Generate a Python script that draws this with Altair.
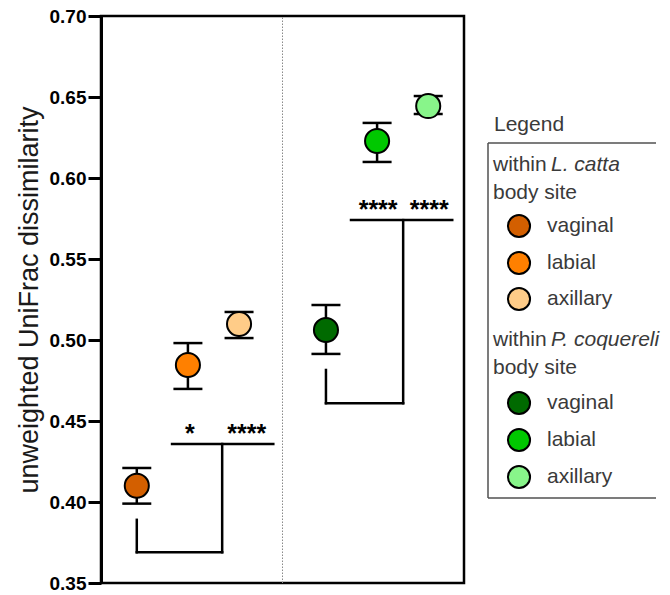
import altair as alt
import pandas as pd

# ---------------- data ----------------
groups = ["L. catta"] * 3 + ["P. coquereli"] * 3
sites = ["vaginal", "labial", "axillary"] * 2
keys = [f"{g} {s}" for g, s in zip(groups, sites)]
xpos = [1, 2, 3, 4.7, 5.7, 6.7]
means = [0.410, 0.4846, 0.5099, 0.5062, 0.6228, 0.6444]
lows = [0.399, 0.4698, 0.5012, 0.4914, 0.6099, 0.6395]
highs = [0.421, 0.4981, 0.5173, 0.5216, 0.6340, 0.6506]
colors = ["#D35F00", "#FF8000", "#FFCC88", "#006A00", "#00C800", "#88F58A"]

# significance brackets (segments)
seg_x = [1, 1, 2.67, 1.69, 4.7, 4.7, 6.21, 5.19]
seg_x2 = [1, 2.67, 2.67, 3.67, 4.7, 6.21, 6.21, 7.17]
seg_y = [0.389, 0.369, 0.369, 0.4358, 0.4815, 0.461, 0.461, 0.574]
seg_y2 = [0.369, 0.369, 0.4358, 0.4358, 0.461, 0.461, 0.574, 0.574]

star_text = ["*", "****", "****", "****"]
star_x = [2.04, 3.15, 5.72, 6.72]
star_y = [0.4358, 0.4358, 0.574, 0.574]

y_ticks = [0.35, 0.40, 0.45, 0.50, 0.55, 0.60, 0.65, 0.70]
divider_x = (xpos[2] + xpos[3]) / 2

FONT = "Liberation Sans"

df = pd.DataFrame({"key": keys, "x": xpos, "mean": means, "lo": lows, "hi": highs})
seg = pd.DataFrame({"x": seg_x, "x2": seg_x2, "y": seg_y, "y2": seg_y2})
stars = pd.DataFrame({"x": star_x, "y": star_y, "t": star_text})
div = pd.DataFrame({"x": [divider_x], "y": [y_ticks[0]], "y2": [y_ticks[-1]]})

xs = alt.Scale(domain=[0.3, 7.4], nice=False, zero=False)
ys = alt.Scale(domain=[0.35, 0.70], nice=False, zero=False)
fill_scale = alt.Scale(domain=keys, range=colors)

yaxis = alt.Axis(
    values=y_ticks, format=".2f", grid=False,
    labelFont=FONT, labelFontSize=19, labelFontWeight="bold", labelColor="black",
    labelPadding=2, tickSize=13, tickWidth=3, tickColor="black",
    domainColor="black", domainWidth=3,
    title="unweighted UniFrac dissimilarity", titleFont=FONT, titleFontSize=27,
    titleFontWeight="normal", titleColor="#1a1a1a", titlePadding=6,
)

divider = alt.Chart(div).mark_rule(color="#8a8a8a", strokeWidth=1, strokeDash=[1.5, 1.5]).encode(
    x=alt.X("x:Q", scale=xs, axis=None),
    y=alt.Y("y:Q", scale=ys, axis=yaxis),
    y2="y2:Q",
)

brackets = alt.Chart(seg).mark_rule(color="black", strokeWidth=2.5, strokeCap="square").encode(
    x=alt.X("x:Q", scale=xs, axis=None),
    x2="x2:Q",
    y=alt.Y("y:Q", scale=ys),
    y2="y2:Q",
)

err = alt.Chart(df).mark_rule(color="black", strokeWidth=2.5).encode(
    x=alt.X("x:Q", scale=xs, axis=None),
    y=alt.Y("lo:Q", scale=ys),
    y2="hi:Q",
)
cap_lo = alt.Chart(df).mark_tick(orient="horizontal", size=29, thickness=2.5, color="black", opacity=1).encode(
    x=alt.X("x:Q", scale=xs, axis=None),
    y=alt.Y("lo:Q", scale=ys),
)
cap_hi = alt.Chart(df).mark_tick(orient="horizontal", size=29, thickness=2.5, color="black", opacity=1).encode(
    x=alt.X("x:Q", scale=xs, axis=None),
    y=alt.Y("hi:Q", scale=ys),
)
points = alt.Chart(df).mark_circle(size=580, stroke="black", strokeWidth=2, opacity=1).encode(
    x=alt.X("x:Q", scale=xs, axis=None),
    y=alt.Y("mean:Q", scale=ys),
    fill=alt.Fill("key:N", scale=fill_scale, legend=None),
)
star_marks = alt.Chart(stars).mark_text(
    font=FONT, fontSize=25, fontWeight="bold", baseline="alphabetic", dy=-2, color="black"
).encode(
    x=alt.X("x:Q", scale=xs, axis=None),
    y=alt.Y("y:Q", scale=ys),
    text="t:N",
)

main = alt.layer(divider, brackets, err, cap_lo, cap_hi, points, star_marks).properties(
    width=363, height=567
)

# ---------------- legend panel (layout in panel pixels) ----------------
LEG_W, LEG_H = 168, 567
lx = alt.Scale(domain=[0, LEG_W], nice=False, zero=False)
ly = alt.Scale(domain=[0, LEG_H], nice=False, zero=False, reverse=True)
TXT = "#3a3a3a"

header_y = [149, 324]
body_y = [177, 352]
item_y = [210, 247, 283, 387, 424, 461]
box_top, box_bottom = 127, 482

normal_rows = pd.DataFrame({
    "x": [6, 5, 5, 5, 5] + [59] * 6,
    "y": [109, header_y[0], body_y[0], header_y[1], body_y[1]] + item_y,
    "t": ["Legend", "within", "body site", "within", "body site"] + sites,
})
italic_rows = pd.DataFrame({"x": [63, 63], "y": header_y, "t": ["L. catta", "P. coquereli"]})
circ_rows = pd.DataFrame({"x": [31] * 6, "y": item_y, "key": keys})
# box drawn as an open frame: left edge plus top and bottom edges running to the page edge
hedge_rows = pd.DataFrame({"x": [0, 0], "x2": [LEG_W, LEG_W], "y": [box_top, box_bottom]})
vedge_rows = pd.DataFrame({"x": [0], "y": [box_top], "y2": [box_bottom]})

hedges = alt.Chart(hedge_rows).mark_rule(stroke="#505050", strokeWidth=1.5).encode(
    x=alt.X("x:Q", scale=lx, axis=None), x2="x2:Q",
    y=alt.Y("y:Q", scale=ly, axis=None),
)
vedge = alt.Chart(vedge_rows).mark_rule(stroke="#505050", strokeWidth=1.5).encode(
    x=alt.X("x:Q", scale=lx, axis=None),
    y=alt.Y("y:Q", scale=ly, axis=None), y2="y2:Q",
)
ntext = alt.Chart(normal_rows).mark_text(
    font=FONT, fontSize=21, align="left", baseline="middle", color=TXT
).encode(
    x=alt.X("x:Q", scale=lx, axis=None), y=alt.Y("y:Q", scale=ly, axis=None), text="t:N"
)
itext = alt.Chart(italic_rows).mark_text(
    font=FONT, fontSize=21, fontStyle="italic", align="left", baseline="middle", color=TXT
).encode(
    x=alt.X("x:Q", scale=lx, axis=None), y=alt.Y("y:Q", scale=ly, axis=None), text="t:N"
)
lcirc = alt.Chart(circ_rows).mark_circle(size=490, stroke="black", strokeWidth=2, opacity=1).encode(
    x=alt.X("x:Q", scale=lx, axis=None), y=alt.Y("y:Q", scale=ly, axis=None),
    fill=alt.Fill("key:N", scale=fill_scale, legend=None),
)

legend = alt.layer(hedges, vedge, ntext, itext, lcirc).properties(
    width=LEG_W, height=LEG_H, view=alt.ViewBackground(stroke="transparent")
)

chart = alt.hconcat(main, legend, spacing=24, bounds="flush").properties(
    padding={"left": 13, "top": 5, "right": 0, "bottom": 0}
).configure(font=FONT).configure_view(stroke="black", strokeWidth=2.5)

chart.save("out.html", embed_options={"renderer": "svg", "actions": False})
